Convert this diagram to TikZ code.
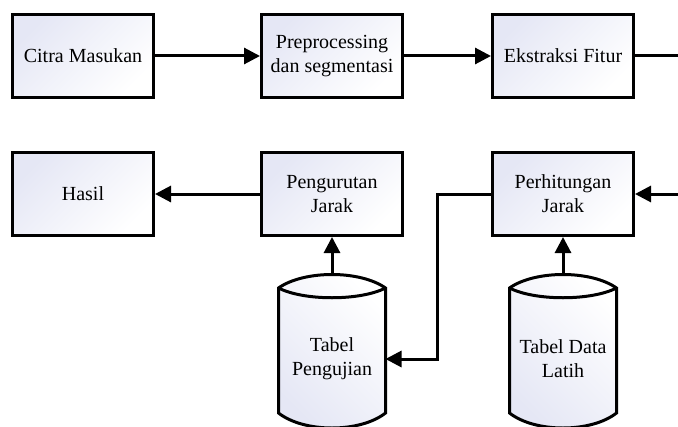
\documentclass[tikz,border=0pt]{standalone}
\usepackage{fontspec}
\setmainfont{Liberation Serif}
\usetikzlibrary{positioning,arrows.meta,backgrounds}
\definecolor{lav}{HTML}{E5E7F5}

\tikzstyle{proses} = [draw, line width=1.5pt, minimum width=70.5pt, minimum height=41.5pt, align=center, top color=lav, bottom color=white, shading angle=45]
\tikzstyle{tabel} = [minimum width=53.5pt, minimum height=84pt, outer sep=0pt, align=center]
\tikzstyle{drum} = [draw, line width=1.5pt, top color=lav, bottom color=white, shading angle=135]
\tikzstyle{garis} = [line width=1.5pt]
\tikzstyle{panah} = [garis, -{Triangle[length=8pt, width=8pt]}]

\begin{document}
\begin{tikzpicture}[x=0.5pt, y=-0.5pt, node distance=26pt and 52.5pt, font=\fontsize{10}{12}\selectfont]
	\useasboundingbox (0,0) rectangle (678,427);
	\node[proses] (citra) at (83,56) {Citra Masukan};
	\node[proses, right=of citra] (pre) {Preprocessing\\dan segmentasi};
	\node[proses, right=43.5pt of pre] (eks) {Ekstraksi Fitur};
	\node[proses, below=of citra] (hasil) {Hasil};
	\node[proses, right=of hasil] (urut) {Pengurutan\\Jarak};
	\node[proses, right=43.5pt of urut] (hitung) {Perhitungan\\Jarak};
	\node[tabel, below=19pt of urut] (uji) {Tabel\\Pengujian};
	\node[tabel, below=19pt of hitung] (latih) {Tabel Data\\Latih};
	\coordinate (keluar) at (678,56);
	\coordinate (masuk) at (678,194);
	\begin{scope}[on background layer]
	\foreach \nm in {uji,latih} {
		\begin{scope}[shift={(\nm.center)}]
		\path[drum] (-53.5,-71) .. controls (-28,-89) and (28,-89) .. (53.5,-71) -- (53.5,54)
			.. controls (28,74) and (-28,74) .. (-53.5,54) -- cycle;
		\draw[garis] (-53.5,-71) .. controls (-28,-58) and (28,-58) .. (53.5,-71);
		\end{scope}
	}
	\end{scope}
	\draw[panah] (citra) -- (pre);
	\draw[panah] (pre) -- (eks);
	\draw[garis] (eks) -- (keluar);
	\draw[panah] (masuk) -- (hitung);
	\draw[panah] (urut) -- (hasil);
	\draw[panah] (uji) -- (urut);
	\draw[panah] (latih) -- (hitung);
	\draw[panah] (hitung.west) -- ++(-54,0) |- (uji.east);
\end{tikzpicture}
\end{document}
